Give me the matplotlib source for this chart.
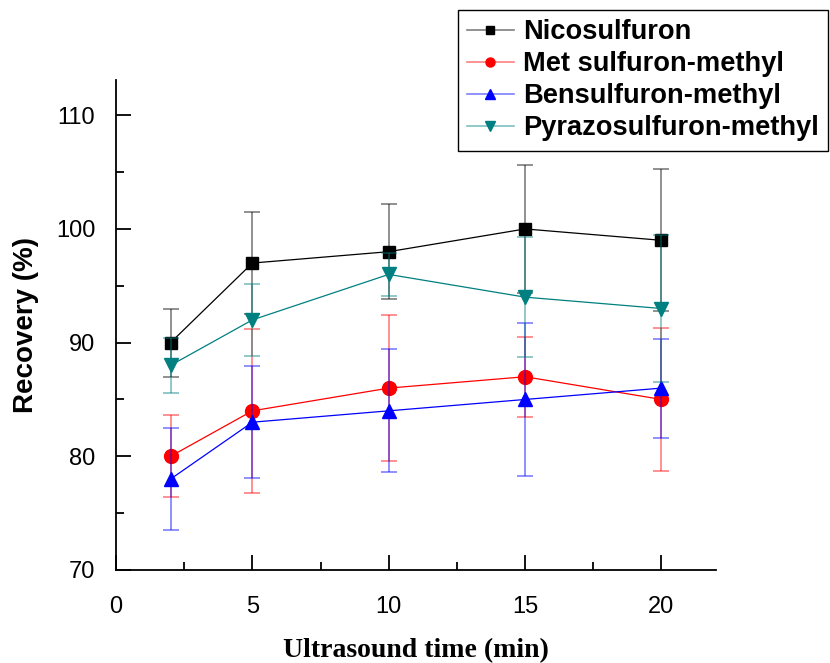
import matplotlib.pyplot as plt
from matplotlib.ticker import MultipleLocator
from matplotlib.lines import Line2D
from matplotlib.colors import to_rgba

# ultrasound time (min)
times = [2, 5, 10, 15, 20]

# recovery (%) and error bars
nico = [90, 97, 98, 100, 99]
nico_err = [3.0, 4.5, 4.2, 5.6, 6.25]
met = [80, 84, 86, 87, 85]
met_err = [3.6, 7.2, 6.45, 3.5, 6.3]
ben = [78, 83, 84, 85, 86]
ben_err = [4.5, 4.9, 5.4, 6.7, 4.35]
pyr = [88, 92, 96, 94, 93]
pyr_err = [2.4, 3.2, 1.9, 5.3, 6.45]

names = ['Nicosulfuron', 'Met sulfuron-methyl', 'Bensulfuron-methyl', 'Pyrazosulfuron-methyl']
colors = ['black', 'red', 'blue', '#008080']
markers = ['s', 'o', '^', 'v']
sizes = [8.5, 10, 10, 10]

plt.rcParams['font.family'] = ['Liberation Sans', 'DejaVu Sans']

fig = plt.figure(figsize=(8.3, 6.63), dpi=100)
ax = fig.add_axes([0.1398, 0.1403, 0.7229, 0.739])

series = [(nico, nico_err), (met, met_err), (ben, ben_err), (pyr, pyr_err)]
handles = []
for (vals, errs), name, c, m, s in zip(series, names, colors, markers, sizes):
    ax.errorbar(times, vals, yerr=errs, fmt='none', ecolor=c, alpha=0.55,
                elinewidth=1.1, capsize=6, capthick=1.1)
    ax.plot(times, vals, color=c, marker=m, markersize=s, linewidth=0.9)
    # legend entry: faint line, solid marker
    handles.append(Line2D([], [], color=to_rgba(c, 0.5), linewidth=1.2, marker=m,
                          markersize=s * 0.65, markerfacecolor=c,
                          markeredgecolor=c, label=name))

ax.set_xlim(0, 22)
ax.set_ylim(70, 113.1)
ax.xaxis.set_major_locator(MultipleLocator(5))
ax.xaxis.set_minor_locator(MultipleLocator(2.5))
ax.yaxis.set_major_locator(MultipleLocator(10))
ax.yaxis.set_minor_locator(MultipleLocator(5))
ax.set_xticks([0, 5, 10, 15, 20])
ax.tick_params(which='both', direction='in', width=1.3, labelsize=17)
ax.tick_params(which='major', length=11)
ax.tick_params(which='minor', length=6)
ax.tick_params(axis='x', pad=19)
ax.tick_params(axis='y', pad=15)
for side in ['top', 'right']:
    ax.spines[side].set_visible(False)
for side in ['left', 'bottom']:
    ax.spines[side].set_linewidth(1.3)

ax.set_ylabel('Recovery (%)', fontsize=20, fontweight='bold')
ax.set_xlabel('Ultrasound time (min)', fontsize=20, fontweight='bold',
              family='Liberation Serif')
ax.yaxis.set_label_coords(-0.128, 0.5)
ax.xaxis.set_label_coords(0.5, -0.139)

leg = ax.legend(handles=handles, loc='upper right', bbox_to_anchor=(0.998, 0.985),
                bbox_transform=fig.transFigure, fancybox=False, framealpha=1,
                edgecolor='black', handlelength=1.7,
                prop={'size': 19.6, 'weight': 'bold'}, borderpad=0.35,
                labelspacing=0.22, handletextpad=0.35, borderaxespad=0)
leg.get_frame().set_linewidth(1.0)

fig.savefig('out.png', dpi=100)
